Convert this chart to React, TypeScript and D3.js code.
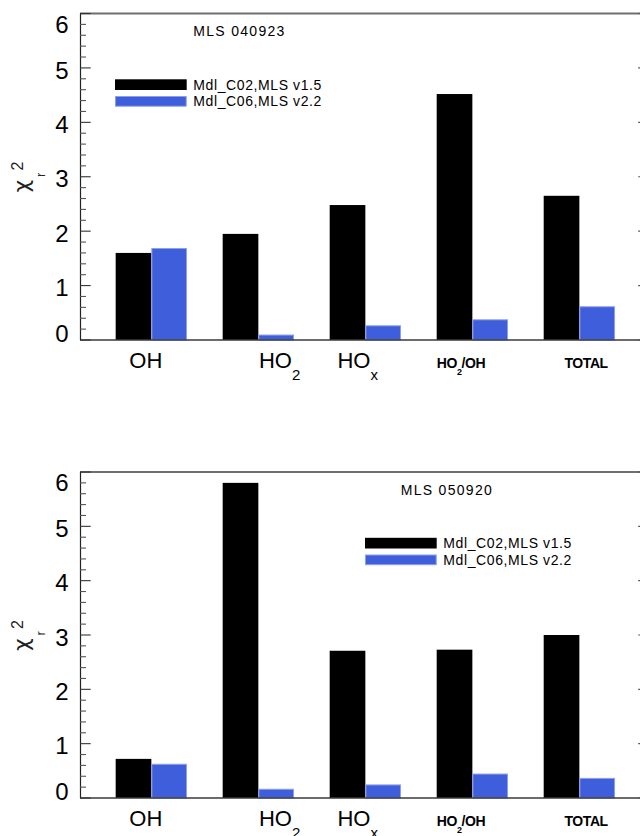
import React from "react";
import * as d3 from "d3";

// Reduced chi-square of model vs. MLS HOx retrievals, two MLS days
const categories = ["OH", "HO2", "HOx", "HO2/OH", "TOTAL"];
const seriesNames = ["Mdl_C02,MLS v1.5", "Mdl_C06,MLS v2.2"];
const panelTitles = ["MLS 040923", "MLS 050920"];
const c02Day040923 = [1.6, 1.95, 2.48, 4.52, 2.65];
const c06Day040923 = [1.69, 0.1, 0.27, 0.38, 0.62];
const c02Day050920 = [0.72, 5.8, 2.71, 2.73, 3.0];
const c06Day050920 = [0.63, 0.17, 0.25, 0.45, 0.37];
const yTickValues = [0, 1, 2, 3, 4, 5, 6];

const W = 640;
const H = 836;
const SERIES_COLORS = ["#000000", "#3f5edb"];
const BLUE_EDGE = "#8c9fea";
const FONT = "'Liberation Sans', Arial, Helvetica, sans-serif";
const CHI_FONT = "'DejaVu Sans', 'Liberation Sans', sans-serif";

// x measured in bar widths: one empty bar on the left, then (black, blue, gap) per category
const x = d3.scaleLinear().domain([0, 16]).range([80, 650.7]);
const barStart = (i: number, s: number) => 1 + 3 * i + s;

// horizontal placement of each category label relative to its first bar
const labelDx = [13.7, 36.3, 7.7, 0, 20.7];

function splitLabel(name: string) {
  const m = name.match(/^(HO)([2x])(.*)$/);
  if (!m) return { head: name, sub: "", tail: "" };
  return { head: m[1], sub: m[2], tail: m[3] };
}

function CategoryLabel({ name, x0, baseY }: { name: string; x0: number; baseY: number }) {
  const { head, sub, tail } = splitLabel(name);
  const big = name.length <= 3;
  const size = big ? 22 : 14;
  const subSize = big ? 15 : 9;
  const subDy = big ? 12.5 : 7.5;
  return (
    <text
      x={x0}
      y={baseY}
      fontFamily={FONT}
      fontSize={size}
      fontWeight={big ? "normal" : "bold"}
      letterSpacing={big ? 0 : -0.4}
      fill="#000"
    >
      <tspan>{head}</tspan>
      {sub && (
        <tspan fontSize={subSize} dy={subDy}>
          {sub}
        </tspan>
      )}
      {tail && <tspan dy={-subDy}>{tail}</tspan>}
    </text>
  );
}

type PanelProps = {
  top: number;
  bottom: number;
  title: string;
  titleX: number;
  legendX: number;
  series: number[][];
};

function Panel({ top, bottom, title, titleX, legendX, series }: PanelProps) {
  const y = d3.scaleLinear().domain([0, 6]).range([bottom, top]);
  const minor = d3.range(0, 31).map((k) => k * 0.2).filter((v) => v <= 6.0001);
  const left = x.range()[0];
  const right = x.range()[1];
  const bw = x(1) - x(0);

  return (
    <g>
      {/* bars */}
      {series.map((vals, s) =>
        vals.map((v, i) => {
          const bx = x(barStart(i, s));
          const by = y(v);
          return s === 0 ? (
            <rect key={`b${s}-${i}`} x={bx} y={by} width={bw} height={bottom - by} fill={SERIES_COLORS[s]} />
          ) : (
            <rect
              key={`b${s}-${i}`}
              x={bx + 0.5}
              y={by + 0.5}
              width={bw - 1}
              height={bottom - by - 0.5}
              fill={SERIES_COLORS[s]}
              stroke={BLUE_EDGE}
              strokeWidth={1}
            />
          );
        })
      )}

      {/* frame */}
      <line x1={left} x2={right} y1={top} y2={top} stroke="#6f6f6f" strokeWidth={2.2} />
      <line x1={left} x2={right} y1={bottom} y2={bottom} stroke="#3a3a3a" strokeWidth={1.6} />
      <line x1={left + 0.5} x2={left + 0.5} y1={top} y2={bottom} stroke="#222" strokeWidth={1.2} />
      <line x1={right} x2={right} y1={top} y2={bottom} stroke="#222" strokeWidth={1.2} />

      {/* y ticks */}
      {minor.map((v, k) => {
        const major = Math.abs(v - Math.round(v)) < 1e-6;
        const len = major ? 10.7 : 6;
        return (
          <g key={`t${k}`}>
            <line x1={left} x2={left + len} y1={y(v)} y2={y(v)} stroke={major ? "#333" : "#555"} strokeWidth={1.1} />
            <line x1={right} x2={right - (major ? 12.5 : 6)} y1={y(v)} y2={y(v)} stroke="#555" strokeWidth={1.1} />
          </g>
        );
      })}
      {yTickValues.map((v) => {
        const cy = Math.min(Math.max(y(v) + 2, top + 10.5), bottom - 6.5);
        return (
          <text key={`l${v}`} x={68.5} y={cy} dy="0.36em" textAnchor="end" fontFamily={FONT} fontSize={24} fill="#000">
            {v}
          </text>
        );
      })}

      {/* y title: reduced chi-square */}
      <text transform={`translate(28.7,${top + 179}) rotate(-90)`} fontFamily={CHI_FONT} fontSize={22} fill="#222">
        χ
      </text>
      <text transform={`translate(45,${top + 163.5}) rotate(-90)`} fontFamily={FONT} fontSize={13} fill="#222">
        r
      </text>
      <text transform={`translate(23.3,${top + 157}) rotate(-90)`} fontFamily={FONT} fontSize={16} fill="#222">
        2
      </text>

      {/* category labels */}
      {categories.map((c, i) => (
        <CategoryLabel key={c} name={c} x0={x(barStart(i, 0)) + labelDx[i]} baseY={bottom + 27.7} />
      ))}

      {/* title */}
      <text x={titleX} y={top + 22.5} fontFamily={FONT} fontSize={14} letterSpacing={1.3} fill="#000">
        {title}
      </text>

      {/* legend */}
      {seriesNames.map((name, s) => {
        const ry = top + 65.8 + s * 16.7;
        return (
          <g key={name}>
            <rect
              x={legendX + (s ? 0.5 : 0)}
              y={ry + (s ? 0.5 : 0)}
              width={71.7 - (s ? 1 : 0)}
              height={10.7 - (s ? 1 : 0)}
              fill={SERIES_COLORS[s]}
              stroke={s ? BLUE_EDGE : "none"}
              strokeWidth={1}
            />
            <text x={legendX + 78.3} y={ry + 10.2} fontFamily={FONT} fontSize={14} letterSpacing={0.6} fill="#000">
              {name}
            </text>
          </g>
        );
      })}
    </g>
  );
}

export default function App() {
  return (
    <svg
      width={W}
      height={H}
      viewBox={`0 0 ${W} ${H}`}
      style={{ position: "absolute", left: 0, top: 0, background: "#fff" }}
    >
      <rect x={0} y={0} width={W} height={H} fill="#fff" />
      <Panel
        top={13.5}
        bottom={340}
        title={panelTitles[0]}
        titleX={193.3}
        legendX={115}
        series={[c02Day040923, c06Day040923]}
      />
      <Panel
        top={472}
        bottom={798}
        title={panelTitles[1]}
        titleX={400.7}
        legendX={365}
        series={[c02Day050920, c06Day050920]}
      />
    </svg>
  );
}
